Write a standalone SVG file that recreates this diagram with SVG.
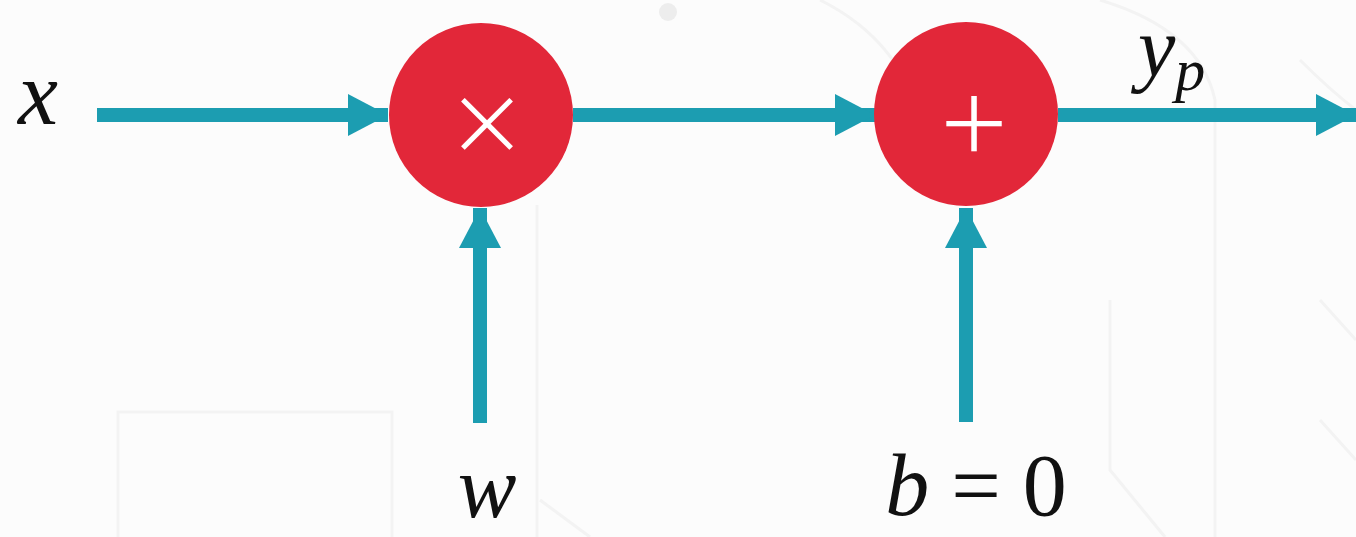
<svg xmlns="http://www.w3.org/2000/svg" width="1356" height="537" viewBox="0 0 1356 537">
  <style>
    .bg { fill: none; stroke: #f3f3f3; stroke-width: 3; }
    .wire { stroke: #1c9db1; stroke-width: 14; fill: none; }
    .op { fill: #e22739; }
    .sym { fill: #ffffff; font-family: "Inter", "DejaVu Sans", sans-serif; font-weight: 200; text-anchor: middle; }
    .math { fill: #111111; font-family: "Liberation Serif", "DejaVu Serif", serif; font-style: italic; }
    .num { fill: #111111; font-family: "Liberation Serif", "DejaVu Serif", serif; }
  </style>
  <defs>
    <marker id="head" viewBox="0 0 40 42" refX="40" refY="21" markerWidth="40" markerHeight="42" markerUnits="userSpaceOnUse" orient="auto">
      <path d="M0,0 L40,21 L0,42 Z" fill="#1c9db1"/>
    </marker>
  </defs>

  <!-- faint decorative backdrop -->
  <rect width="1356" height="537" fill="#fcfcfc"/>
  <g id="backdrop">
    <circle cx="668" cy="12" r="9" fill="#ededed"/>
    <path class="bg" d="M537,205 V537"/>
    <path class="bg" d="M118,537 V412 H392 V537"/>
    <path class="bg" d="M540,500 L590,537"/>
    <path class="bg" d="M820,0 Q900,40 920,120"/>
    <path class="bg" d="M1100,0 Q1200,30 1215,100 V537"/>
    <path class="bg" d="M1165,537 L1110,470 V300"/>
    <path class="bg" d="M1300,60 Q1330,90 1356,110"/>
    <path class="bg" d="M1320,300 L1356,340"/>
    <path class="bg" d="M1320,420 L1356,460"/>
  </g>

  <!-- connectors -->
  <g id="connectors">
    <line class="wire" x1="97" y1="115" x2="388" y2="115" marker-end="url(#head)"/>
    <line class="wire" x1="573" y1="115" x2="875" y2="115" marker-end="url(#head)"/>
    <line class="wire" x1="1058" y1="115" x2="1356" y2="115" marker-end="url(#head)"/>
    <line class="wire" x1="480" y1="423" x2="480" y2="208" marker-end="url(#head)"/>
    <line class="wire" x1="966" y1="422" x2="966" y2="208" marker-end="url(#head)"/>
  </g>

  <!-- multiply node -->
  <g id="mul">
    <circle class="op" cx="481" cy="115" r="92"/>
    <text class="sym" x="487" y="158" font-size="120">×</text>
  </g>

  <!-- add node -->
  <g id="add">
    <circle class="op" cx="966" cy="114" r="92"/>
    <text class="sym" x="974" y="160" font-size="128">+</text>
  </g>

  <!-- labels -->
  <g id="label-x"><text class="math" x="18" y="124" font-size="90">x</text></g>
  <g id="label-w"><text class="math" x="487" y="517" font-size="88" text-anchor="middle">w</text></g>
  <g id="label-b"><text x="976" y="515" font-size="88" text-anchor="middle"><tspan class="math">b</tspan><tspan class="num"> = 0</tspan></text></g>
  <g id="label-yp"><text x="1138" y="76" font-size="84"><tspan class="math">y</tspan><tspan class="math" font-size="60" dy="14">p</tspan></text></g>
</svg>
